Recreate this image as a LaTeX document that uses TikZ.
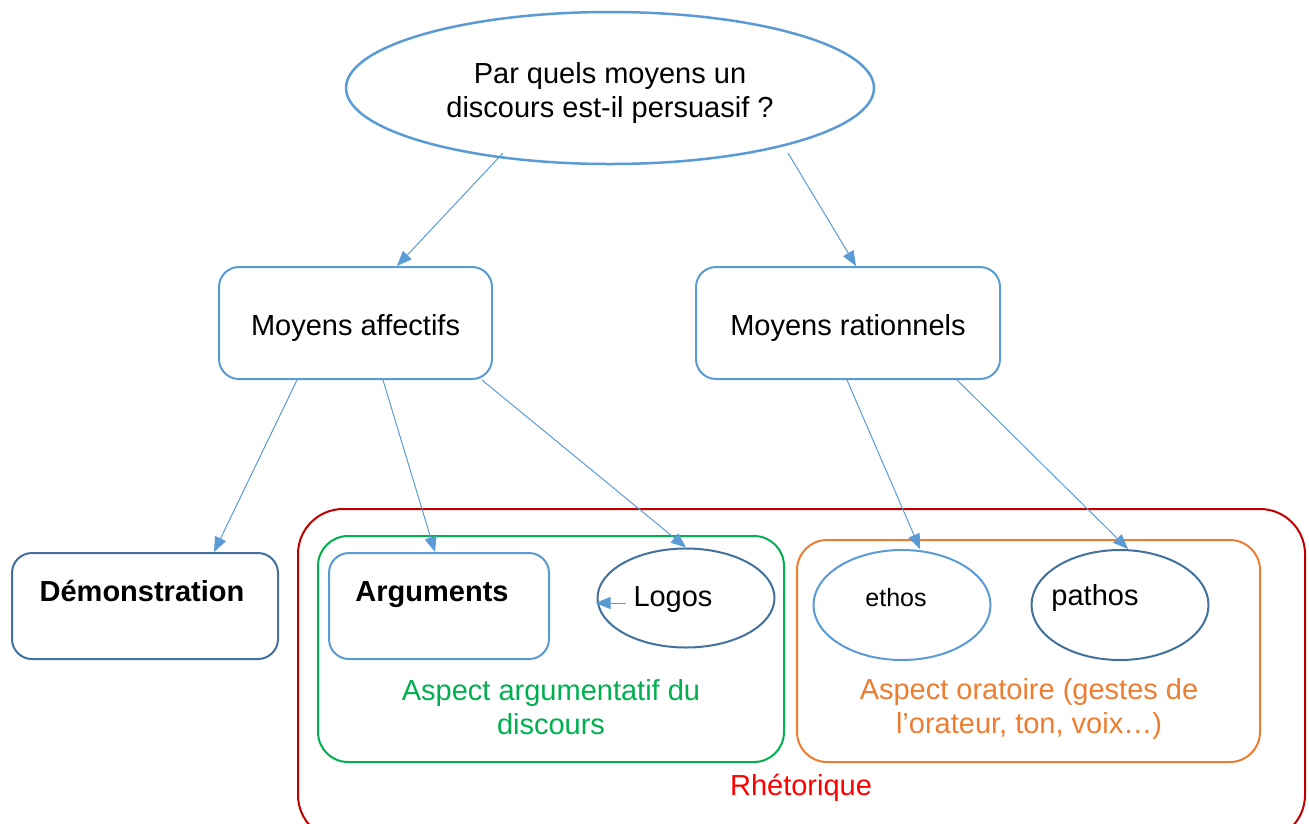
\documentclass[tikz,border=0pt]{standalone}
\usepackage{fontspec}
\setmainfont{Liberation Sans}
\usetikzlibrary{shapes.geometric,arrows.meta,calc}
\definecolor{lblue}{HTML}{5B9BD5}
\definecolor{dblue}{HTML}{41719C}
\definecolor{rbox}{HTML}{C00000}
\definecolor{rtxt}{HTML}{FF0000}
\definecolor{gbox}{HTML}{00B050}
\definecolor{obox}{HTML}{ED7D31}
\tikzset{
  txt/.style={font=\fontsize{29}{34}\selectfont, inner sep=0pt, align=center},
  smalltxt/.style={font=\fontsize{25}{30}\selectfont, inner sep=0pt},
  rbox/.style={draw, rounded corners=20pt, line width=2pt, inner sep=0pt},
  ell/.style={draw, ellipse, line width=2pt, inner sep=0pt},
  conn/.style={draw=lblue, line width=1pt, -{Triangle[length=15pt,width=12pt]}, color=lblue},
}
\begin{document}
\begin{tikzpicture}[x=1pt,y=-1pt]
\useasboundingbox (0,0) rectangle (1309,823);
\clip (0,0) rectangle (1309,823);
% group boxes
\node[rbox, draw=rbox, rounded corners=45pt, minimum width=1007pt, minimum height=331pt] (rhet) at (801.5,674.5) {};
\node[rbox, draw=gbox, rounded corners=30pt, minimum width=466pt, minimum height=226pt] (garg) at (551,649) {};
\node[rbox, draw=obox, rounded corners=30pt, minimum width=463pt, minimum height=222pt] (gora) at (1028.5,651) {};
% top question
\node[ell, draw=lblue, line width=2.5pt, minimum width=528pt, minimum height=152pt] (q) at (610,88) {};
\node[txt] (qt) at (610,93) {Par quels moyens un\\discours est-il persuasif ?};
% level 2
\node[rbox, draw=lblue, minimum width=273pt, minimum height=112pt] (ma) at (355.5,323) {};
\node[txt, anchor=base] (mat) at (355.5,335) {Moyens affectifs};
\node[rbox, draw=lblue, minimum width=304pt, minimum height=112pt] (mr) at (848,323) {};
\node[txt, anchor=base] (mrt) at (848,335) {Moyens rationnels};
% level 3
\node[rbox, draw=dblue, minimum width=266pt, minimum height=106pt] (demo) at (145,606) {};
\node[txt, anchor=base, font=\fontsize{29}{34}\selectfont\bfseries] (demot) at (142,601) {Démonstration};
\node[rbox, draw=lblue, minimum width=220pt, minimum height=106pt] (arg) at (439,606) {};
\node[txt, anchor=base, font=\fontsize{29}{34}\selectfont\bfseries] (argt) at (432,601) {Arguments};
\node[ell, draw=dblue, minimum width=177pt, minimum height=99pt] (logos) at (686,598) {};
\node[txt, anchor=base] (logost) at (673,606) {Logos};
\node[ell, draw=lblue, minimum width=177pt, minimum height=110pt] (ethos) at (902,605) {};
\node[smalltxt, anchor=base] (ethost) at (896,606) {ethos};
\node[ell, draw=dblue, minimum width=177pt, minimum height=110pt] (pathos) at (1120,605) {};
\node[txt, anchor=base] (pathost) at (1095,605) {pathos};
% group labels
\node[txt, text=gbox] (gargt) at (551,707) {Aspect argumentatif du\\discours};
\node[txt, text=obox] (gorat) at (1029,709) {Aspect oratoire (gestes de\\l’orateur, ton, voix…)};
\node[txt, text=rtxt, anchor=base] (rhett) at (801,795) {Rhétorique};
% connectors
\draw[conn] ($(q.center)+(-107,65)$) -- ($(ma.north west)+(179,0)$);
\draw[conn] ($(q.center)+(178,65)$) -- ($(mr.north west)+(161,0)$);
\draw[conn] ($(ma.south west)+(79,0)$) -- ($(demo.north west)+(203,0)$);
\draw[conn] ($(ma.south west)+(165,0)$) -- ($(arg.north west)+(107,0)$);
\draw[conn] ($(ma.south west)+(264,0)$) -- (logos.north);
\draw[conn] ($(logos.west)+(29,5)$) -- ($(logos.west)+(-1,5)$);
\draw[conn] ($(mr.south west)+(152,0)$) -- ($(ethos.north)+(18,0)$);
\draw[conn] ($(mr.south west)+(262,0)$) -- ($(pathos.north)+(8,0)$);
\end{tikzpicture}
\end{document}
